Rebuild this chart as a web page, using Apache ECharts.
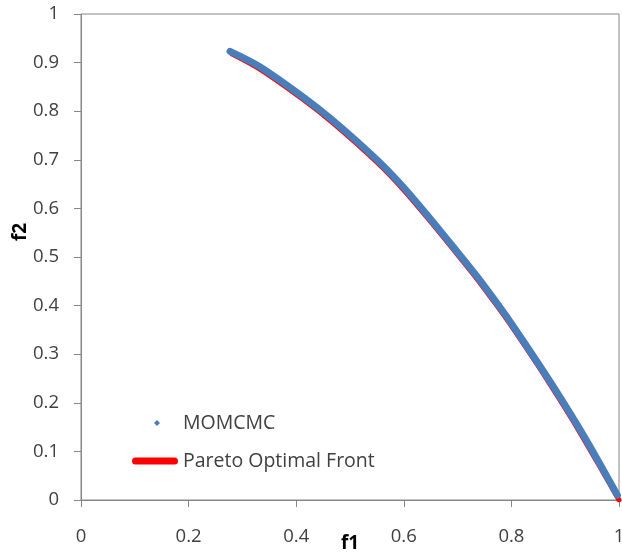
<!DOCTYPE html>
<html>
<head>
<meta charset="utf-8">
<title>MOMCMC vs Pareto Optimal Front</title>
<script src="https://cdn.jsdelivr.net/npm/echarts@6/dist/echarts.min.js"></script>
<style>
  html, body { margin: 0; padding: 0; background: #ffffff; }
  #chart { width: 622px; height: 558px; }
</style>
</head>
<body>
<div id="chart"></div>
<script>
// Axis ticks
const xTicks = [0, 0.2, 0.4, 0.6, 0.8, 1];
const yTicks = [0, 0.1, 0.2, 0.3, 0.4, 0.5, 0.6, 0.7, 0.8, 0.9, 1];

// MOMCMC samples (f1, f2)
const momcmcF1 = [0.277, 0.333, 0.413, 0.468, 0.550, 0.599, 0.643, 0.691, 0.736, 0.779, 0.797, 0.848, 0.885, 0.922, 0.959, 0.997];
const momcmcF2 = [0.923, 0.891, 0.829, 0.781, 0.700, 0.644, 0.587, 0.522, 0.460, 0.396, 0.368, 0.284, 0.221, 0.155, 0.085, 0.010];

// Pareto optimal front (f1, f2)
const paretoF1 = [0.280, 0.333, 0.413, 0.468, 0.550, 0.599, 0.643, 0.691, 0.736, 0.779, 0.797, 0.848, 0.885, 0.922, 0.959, 1.000];
const paretoF2 = [0.918, 0.886, 0.824, 0.776, 0.695, 0.639, 0.582, 0.517, 0.455, 0.391, 0.363, 0.279, 0.215, 0.149, 0.079, 0.000];

const pairs = (xs, ys) => xs.map((x, i) => [x, ys[i]]);

const FONT = '"Open Sans", "DejaVu Sans", sans-serif';
const TEXT = '#404040';
const AXIS = '#868686';

const chart = echarts.init(document.getElementById('chart'), null, { renderer: 'canvas' });

chart.setOption({
  animation: false,
  backgroundColor: '#ffffff',
  textStyle: { fontFamily: FONT },
  grid: {
    left: 81, top: 14, width: 538, height: 486,
    outerBoundsMode: 'none', containLabel: false,
    show: true, borderColor: AXIS, borderWidth: 1, backgroundColor: 'transparent'
  },
  legend: [
    {
      data: [{ name: 'MOMCMC', icon: 'diamond' }],
      left: 154, top: 413, padding: 0,
      itemWidth: 6, itemHeight: 6,
      itemStyle: { color: '#4a7ebb' },
      textStyle: { fontFamily: FONT, fontSize: 19.5, color: TEXT, padding: [0, 0, 0, 18] },
      selectedMode: false
    },
    {
      data: [{ name: 'Pareto Optimal Front', icon: 'path://M3.5,0 H42.5 A3.5,3.5 0 0 1 42.5,7 H3.5 A3.5,3.5 0 0 1 3.5,0 Z' }],
      left: 132, top: 451, padding: 0,
      itemWidth: 46, itemHeight: 7,
      itemStyle: { color: '#ff0000' },
      textStyle: { fontFamily: FONT, fontSize: 19.5, color: TEXT },
      selectedMode: false
    }
  ],
  xAxis: {
    type: 'value',
    min: xTicks[0], max: xTicks[xTicks.length - 1], interval: 0.2,
    name: 'f1', nameLocation: 'middle', nameGap: 34, nameMoveOverlap: false,
    nameTextStyle: { fontFamily: FONT, fontSize: 19, fontWeight: 'bold', color: '#000000' },
    axisLine: { show: true, lineStyle: { color: AXIS, width: 1 } },
    axisTick: { show: true, inside: false, length: 7, lineStyle: { color: AXIS } },
    axisLabel: { margin: 27, fontFamily: FONT, fontSize: 18.5, color: TEXT },
    splitLine: { show: false }
  },
  yAxis: {
    type: 'value',
    min: yTicks[0], max: yTicks[yTicks.length - 1], interval: 0.1,
    name: 'f2', nameLocation: 'middle', nameGap: 51, nameRotate: 90, nameMoveOverlap: false,
    nameTextStyle: { fontFamily: FONT, fontSize: 19, fontWeight: 'bold', color: '#000000', padding: [0, 0, 0, 50] },
    axisLine: { show: true, lineStyle: { color: AXIS, width: 1 } },
    axisTick: { show: true, inside: false, length: 7, lineStyle: { color: AXIS } },
    axisLabel: { margin: 22, fontFamily: FONT, fontSize: 18.5, color: TEXT },
    splitLine: { show: false }
  },
  series: [
    {
      name: 'Pareto Optimal Front',
      type: 'line',
      data: pairs(paretoF1, paretoF2),
      symbol: 'none',
      smooth: 0.3,
      lineStyle: { color: '#ff0000', width: 5, cap: 'round', join: 'round' },
      itemStyle: { color: '#ff0000' },
      z: 2
    },
    {
      name: 'MOMCMC',
      type: 'line',
      data: pairs(momcmcF1, momcmcF2),
      symbol: 'diamond',
      showSymbol: false,
      smooth: 0.3,
      lineStyle: { color: '#4a7ebb', width: 7, cap: 'round', join: 'round' },
      itemStyle: { color: '#4a7ebb' },
      z: 3
    }
  ]
});
</script>
</body>
</html>
